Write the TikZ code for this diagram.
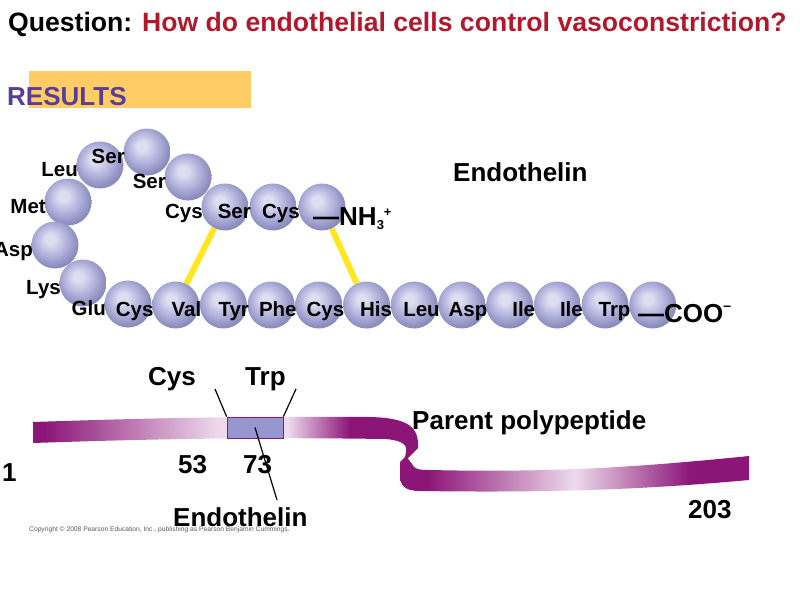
\documentclass[tikz,border=0pt]{standalone}
\usepackage{fontspec}
\setmainfont{Liberation Sans}
\usetikzlibrary{backgrounds}

\definecolor{qred}{RGB}{178,24,44}
\definecolor{respurple}{RGB}{88,62,150}
\definecolor{resorange}{RGB}{255,204,102}
\definecolor{aahi}{RGB}{222,222,242}
\definecolor{aabody}{RGB}{176,176,219}
\definecolor{aaedge}{RGB}{138,138,188}
\definecolor{bondyellow}{RGB}{255,230,30}
\definecolor{ribdark}{RGB}{140,22,120}
\definecolor{riblight}{RGB}{238,218,236}
\definecolor{boxfill}{RGB}{152,150,206}

\pgfdeclareradialshading{aaball}{\pgfpoint{-6bp}{7bp}}{color(0bp)=(aahi); color(5bp)=(aahi); color(17bp)=(aabody); color(27bp)=(aaedge); color(50bp)=(aaedge)}
\pgfdeclarehorizontalshading{ribupper}{100bp}{color(0bp)=(ribdark); color(26.5bp)=(ribdark); color(49bp)=(riblight); color(58bp)=(riblight); color(66bp)=(ribdark); color(100bp)=(ribdark)}
\pgfdeclarehorizontalshading{riblower}{100bp}{color(0bp)=(ribdark); color(29bp)=(ribdark); color(50bp)=(riblight); color(66.5bp)=(ribdark); color(100bp)=(ribdark)}

\tikzset{
  aa/.style={circle, minimum size=47, inner sep=0, shading=aaball},
  aalbl/.style={font=\fontsize{20.5}{22}\selectfont\bfseries, anchor=base east, inner sep=0},
  bigtxt/.style={font=\fontsize{26}{30}\selectfont\bfseries, anchor=base west, inner sep=0},
  ssbond/.style={draw=bondyellow, line width=6},
  endobox/.style={draw=ribdark, fill=boxfill, minimum width=56, minimum height=21, inner sep=0, line width=0.8},
  ptr/.style={draw=black, line width=1.2}
}

\begin{document}
\begin{tikzpicture}[x=1pt,y=-1pt]
\useasboundingbox (0,0) rectangle (800,600);
% heading
\node[bigtxt, font=\fontsize{26.6}{30}\selectfont\bfseries] (question) at (8,31) {Question: \textcolor{qred}{How do endothelial cells control vasoconstriction?}};
\fill[resorange] (29,71) rectangle (251,108);
\node[bigtxt, text=respurple] (results) at (7,105) {RESULTS};
\node[bigtxt] (endotitle) at (453,181) {Endothelin};

% the 21 residues, N-terminus first
\node[aa] (r1) at (322,207) {};
\node[aa] (r2) at (273,207) {};
\node[aa] (r3) at (225,207) {};
\node[aa] (r4) at (188,177) {};
\node[aa] (r5) at (147,152) {};
\node[aa] (r6) at (100,165) {};
\node[aa] (r7) at (68,202) {};
\node[aa] (r8) at (55,245) {};
\node[aa] (r9) at (83,283) {};
\node[aa] (r10) at (128,304) {};
\node[aa] (r11) at (175.7,305) {};
\node[aa] (r12) at (223.4,305) {};
\node[aa] (r13) at (271.1,305) {};
\node[aa] (r14) at (318.8,305) {};
\node[aa] (r15) at (366.5,305) {};
\node[aa] (r16) at (414.2,305) {};
\node[aa] (r17) at (461.9,305) {};
\node[aa] (r18) at (509.6,305) {};
\node[aa] (r19) at (557.3,305) {};
\node[aa] (r20) at (605,305) {};
\node[aa] (r21) at (652.7,305) {};
\begin{scope}[on background layer]
\draw[ssbond] (r3) -- (r11);
\draw[ssbond] (r1) -- (r15);
\end{scope}

\node[aalbl] at ([shift={(-22,11)}]r1) {Cys};
\node[aalbl] at ([shift={(-22,11)}]r2) {Ser};
\node[aalbl] at ([shift={(-22,11)}]r3) {Cys};
\node[aalbl] at ([shift={(-22,11)}]r4) {Ser};
\node[aalbl] at ([shift={(-22,11)}]r5) {Ser};
\node[aalbl] at ([shift={(-22,11)}]r6) {Leu};
\node[aalbl] at ([shift={(-22,11)}]r7) {Met};
\node[aalbl] at ([shift={(-22,11)}]r8) {Asp};
\node[aalbl] at ([shift={(-22,11)}]r9) {Lys};
\node[aalbl] at ([shift={(-22,11)}]r10) {Glu};
\node[aalbl] at ([shift={(-22,11)}]r11) {Cys};
\node[aalbl] at ([shift={(-22,11)}]r12) {Val};
\node[aalbl] at ([shift={(-22,11)}]r13) {Tyr};
\node[aalbl] at ([shift={(-22,11)}]r14) {Phe};
\node[aalbl] at ([shift={(-22,11)}]r15) {Cys};
\node[aalbl] at ([shift={(-22,11)}]r16) {His};
\node[aalbl] at ([shift={(-22,11)}]r17) {Leu};
\node[aalbl] at ([shift={(-22,11)}]r18) {Asp};
\node[aalbl] at ([shift={(-22,11)}]r19) {Ile};
\node[aalbl] at ([shift={(-22,11)}]r20) {Ile};
\node[aalbl] at ([shift={(-22,11)}]r21) {Trp};
\node[bigtxt] (nterm) at (313,225) {—NH\raisebox{-4pt}{\fontsize{13}{13}\selectfont 3}\raisebox{9pt}{\fontsize{13}{13}\selectfont +}};
\node[bigtxt] (cterm) at (638,322) {—COO\raisebox{12pt}{\fontsize{14}{14}\selectfont –}};

% parent polypeptide ribbon
\shade[shading=ribupper] (33,422) .. controls (150,418) and (250,416) .. (370,417)
  .. controls (410,418) and (419,428) .. (418,448) -- (404,462) -- (406,452)
  .. controls (408,444) and (400,440) .. (385,439)
  .. controls (250,437) and (150,439) .. (33,443) -- cycle;
\shade[shading=riblower] (406,456) -- (412,464) .. controls (414,469) and (418,470) .. (430,470)
  .. controls (560,473) and (650,466) .. (749,456) -- (749,480)
  .. controls (650,489) and (560,493) .. (420,491)
  .. controls (404,491) and (400,485) .. (400,475) -- (400,462) -- cycle;
\node[endobox] (endo) at (255,427.5) {};

\node[bigtxt] (cyslbl) at (148,385) {Cys};
\node[bigtxt] (trplbl) at (245,385) {Trp};
\node[bigtxt] (parent) at (412,429) {Parent polypeptide};
\node[bigtxt] (n53) at (178,473) {53};
\node[bigtxt] (n73) at (243,473) {73};
\node[bigtxt] (n1) at (2,481) {1};
\node[bigtxt] (n203) at (688,518) {203};
\node[anchor=base west, inner sep=0, text=black!65, font=\fontsize{6.7}{7}\selectfont] (copy) at (29,531) {Copyright © 2008 Pearson Education, Inc., publishing as Pearson Benjamin Cummings.};
\node[bigtxt] (endolbl) at (173,526) {Endothelin};

\coordinate (cystip) at (215,389);
\coordinate (trptip) at (296,389);
\coordinate (endotip) at (277,500);
\draw[ptr] (cystip) -- (endo.north west);
\draw[ptr] (trptip) -- (endo.north east);
\draw[ptr] (endo.center) -- (endotip);
\end{tikzpicture}
\end{document}
